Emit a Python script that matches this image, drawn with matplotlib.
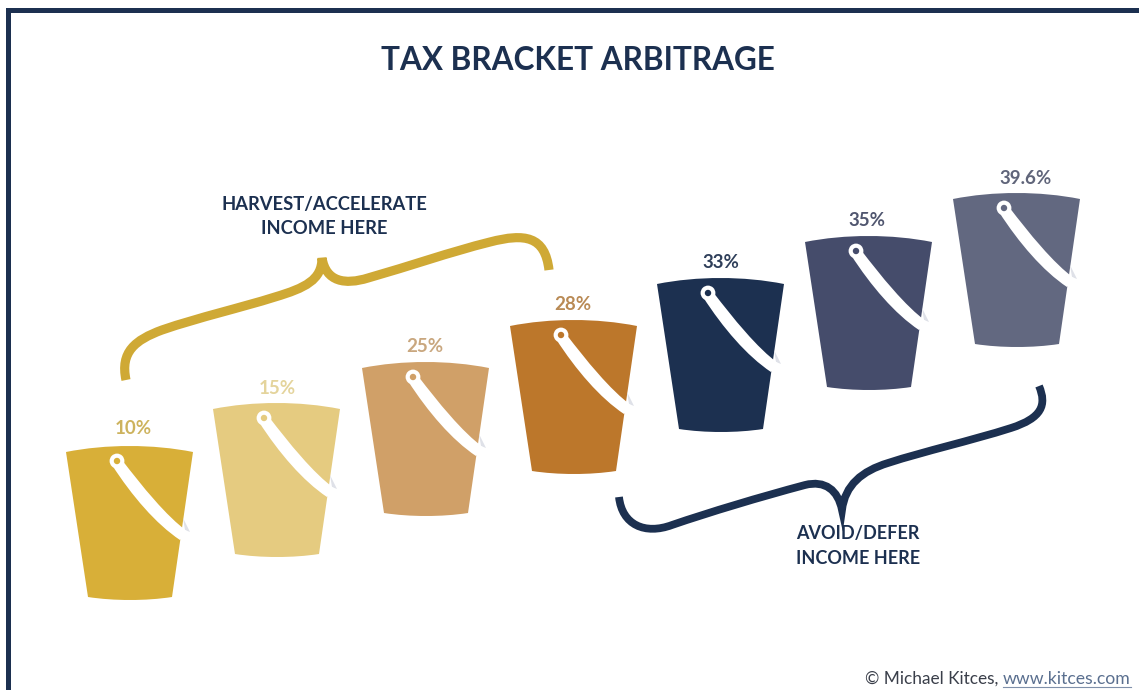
import matplotlib
matplotlib.use("Agg")
import matplotlib.pyplot as plt
from matplotlib.patches import PathPatch, Circle, Rectangle
from matplotlib.path import Path

W, H = 1139, 690
FONT = ["Lato", "DejaVu Sans"]
NAVY = "#1c3050"

# Data
brackets = ["10%", "15%", "25%", "28%", "33%", "35%", "39.6%"]
bucket_left = [66, 213, 362, 510, 657, 805, 953]
bucket_top = [446, 403, 362, 320, 278, 236, 193]
bucket_colors = ["#d8af38", "#e5cb80", "#d0a068", "#bc772b", "#1c3050", "#454c6b", "#626880"]
label_x = [133, 277, 425, 573, 721, 867, 1026]
label_y = [429, 388, 346, 304, 262, 220, 178]
label_colors = ["#cdb35e", "#e4d49c", "#c9a77f", "#b98a55", "#2f3f5a", "#50566f", "#60657a"]

title = "TAX BRACKET ARBITRAGE"
harvest_text = "HARVEST/ACCELERATE\nINCOME HERE"
avoid_text = "AVOID/DEFER\nINCOME HERE"
credit_name = "© Michael Kitces, "
credit_site = "www.kitces.com"

fig = plt.figure(figsize=(W / 100, H / 100), dpi=100, facecolor="white")
ax = fig.add_axes([0, 0, 1, 1])
ax.set_xlim(0, W)
ax.set_ylim(H, 0)
ax.axis("off")

M, L, C, Z = Path.MOVETO, Path.LINETO, Path.CURVE4, Path.CLOSEPOLY


def bucket(x0, y0, color):
    verts = [
        (x0, y0 + 6), (x0 + 40, y0 - 2), (x0 + 87, y0 - 2), (x0 + 127, y0 + 6),
        (x0 + 106, y0 + 151),
        (x0 + 80, y0 + 155), (x0 + 48, y0 + 155), (x0 + 22, y0 + 151),
        (x0, y0 + 6),
    ]
    codes = [M, C, C, C, L, C, C, C, Z]
    ax.add_patch(PathPatch(Path(verts, codes), fc=color, ec="none", zorder=2))
    # shadow sliver at the handle tip
    sliver = [(x0 + 117, y0 + 72), (x0 + 124, y0 + 86), (x0 + 119, y0 + 84), (x0 + 117, y0 + 72)]
    ax.add_patch(PathPatch(Path(sliver, [M, L, L, Z]), fc="#dfe1e8", ec="none", zorder=3))
    # handle: widens toward the tip
    hv = [(x0 + 56, y0 + 14), (x0 + 76, y0 + 40), (x0 + 100, y0 + 70), (x0 + 122, y0 + 86),
          (x0 + 114, y0 + 94),
          (x0 + 90, y0 + 78), (x0 + 66, y0 + 50), (x0 + 46, y0 + 19),
          (x0 + 56, y0 + 14)]
    ax.add_patch(PathPatch(Path(hv, [M, C, C, C, L, C, C, C, Z]), fc="white", ec="none", zorder=4))
    ax.add_patch(Circle((x0 + 51, y0 + 15), 7.4, fc="white", ec="none", zorder=5))
    ax.add_patch(Circle((x0 + 51, y0 + 15), 3.2, fc=color, ec="none", zorder=6))


for x0, y0, c in zip(bucket_left, bucket_top, bucket_colors):
    bucket(x0, y0, c)
for s, x, y, c in zip(brackets, label_x, label_y, label_colors):
    ax.text(x, y, s, color=c, ha="center", va="center", fontsize=13.5,
            fontweight="bold", family=FONT, zorder=7)

# braces
gold = [(126, 380), (120, 352), (135, 340), (162, 330), (200, 317), (240, 308), (275, 297),
        (305, 288), (322, 280), (322, 258),
        (326, 282), (345, 285), (368, 278), (410, 266), (450, 252), (490, 242),
        (525, 233), (545, 236), (549, 270)]
navy = [(619, 497), (622, 525), (645, 535), (672, 525), (710, 512), (760, 497), (805, 485),
        (825, 480), (838, 490), (842, 510),
        (845, 485), (862, 471), (888, 463), (925, 451), (970, 441), (1011, 428),
        (1042, 418), (1047, 405), (1039, 386)]
for v, c, lw in ((gold, "#cfa935", 6.6), (navy, NAVY, 5.6)):
    ax.add_patch(PathPatch(Path(v, [M] + [C] * (len(v) - 1)), fc="none", ec=c, lw=lw,
                           capstyle="butt", joinstyle="miter", zorder=2))

# text
ax.text(578, 61, title, color=NAVY, ha="center", va="center", fontsize=22.7,
        fontweight="bold", family=FONT)
ax.text(324, 216.5, harvest_text, color=NAVY, ha="center", va="center", fontsize=13.2,
        fontweight="bold", family=FONT, linespacing=1.55)
ax.text(858, 546, avoid_text, color=NAVY, ha="center", va="center", fontsize=13,
        fontweight="bold", family=FONT, linespacing=1.55)
ax.text(1003, 679, credit_name, color="#3a3f4a", ha="right", va="center", fontsize=12.4, family=FONT)
ax.text(1003, 679, credit_site, color="#5a6f8f", ha="left", va="center", fontsize=12.7, family=FONT)
ax.plot([1003, 1131], [687, 687], color="#7f90aa", lw=0.8)

# frame
ax.add_patch(Rectangle((6, 8), W, 5, fc=NAVY, ec="none", zorder=1))
ax.add_patch(Rectangle((6, 8), 5, H, fc=NAVY, ec="none", zorder=1))

fig.savefig("out.png", dpi=100, facecolor="white")
